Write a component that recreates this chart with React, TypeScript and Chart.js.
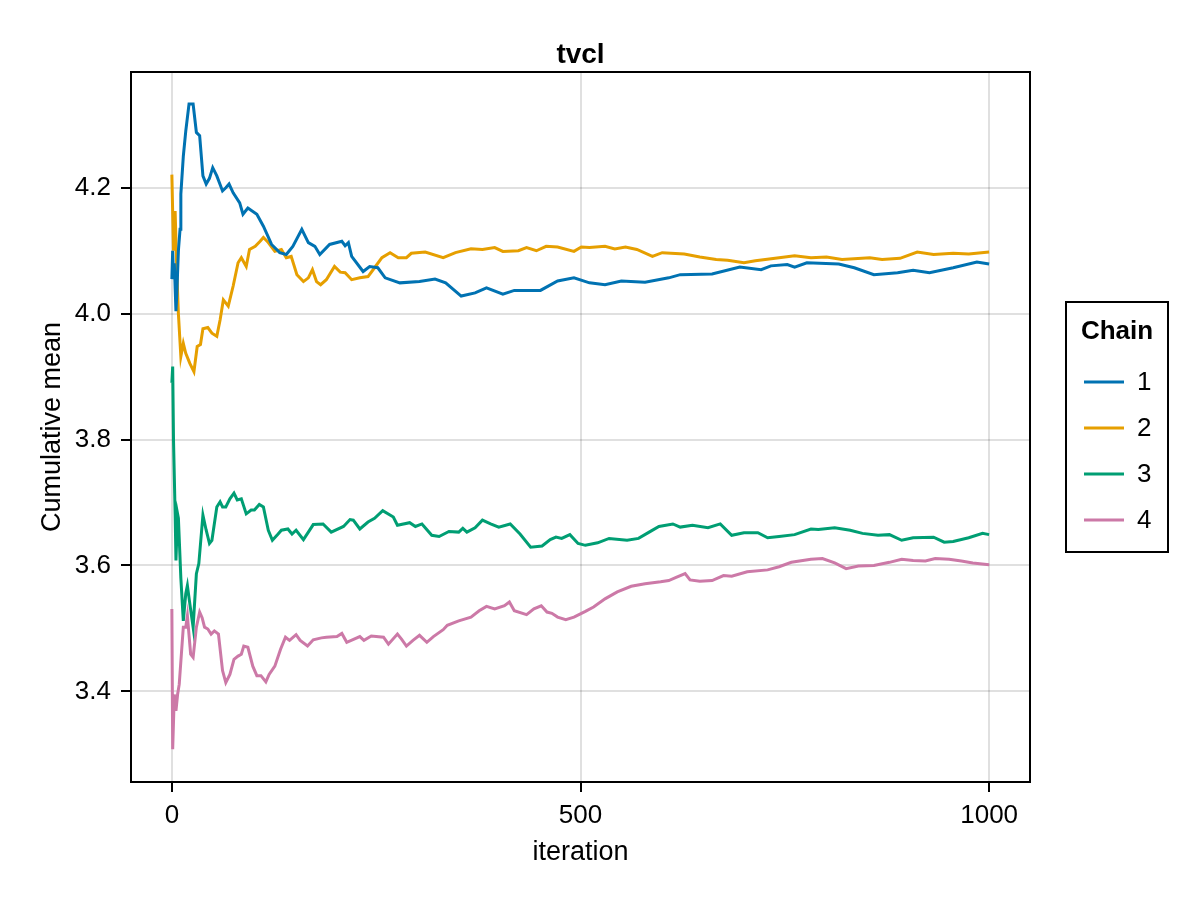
import React, { useEffect, useRef } from "react";
import { Chart, registerables } from "chart.js";

Chart.register(...registerables);

const FONT = "'Liberation Sans', Arial, Helvetica, sans-serif";

const TITLE = "tvcl";
const X_TITLE = "iteration";
const Y_TITLE = "Cumulative mean";
const LEGEND_TITLE = "Chain";
const CHAIN_LABELS = ["1", "2", "3", "4"];
const COLORS = ["#0072B2", "#E69F00", "#009E73", "#CC79A7"];

const X_TICKS = [0, 500, 1000];
const Y_TICKS = [3.4, 3.6, 3.8, 4.0, 4.2];
const X_MIN = -50;
const X_MAX = 1050;
const Y_MIN = 3.256;
const Y_MAX = 4.384;

// Chain 1
const ITER_1 = [0, 1, 2, 3, 5, 6, 8, 10, 11, 14, 17, 21, 26, 30, 34, 38, 42, 46, 50, 55, 62, 66, 70, 75, 83, 87, 93, 104, 112, 122, 132, 140, 148, 159, 167, 175, 181, 193, 208, 212, 216, 220, 234, 242, 252, 261, 279, 303, 322, 335, 354, 371, 385, 405, 419, 451, 472, 492, 511, 530, 550, 579, 608, 622, 661, 695, 721, 733, 753, 762, 777, 816, 835, 859, 888, 907, 927, 956, 985, 1000];
const MEAN_1 = [4.055, 4.1, 4.06, 4.08, 4.004, 4.03, 4.1, 4.134, 4.19, 4.25, 4.29, 4.333, 4.333, 4.288, 4.283, 4.219, 4.206, 4.215, 4.232, 4.219, 4.195, 4.2, 4.206, 4.192, 4.176, 4.158, 4.168, 4.158, 4.139, 4.11, 4.097, 4.094, 4.107, 4.134, 4.113, 4.107, 4.094, 4.11, 4.115, 4.108, 4.113, 4.091, 4.067, 4.075, 4.073, 4.057, 4.049, 4.051, 4.055, 4.049, 4.028, 4.033, 4.041, 4.031, 4.037, 4.037, 4.052, 4.057, 4.049, 4.046, 4.052, 4.05, 4.057, 4.062, 4.063, 4.074, 4.07, 4.076, 4.078, 4.074, 4.081, 4.079, 4.073, 4.062, 4.065, 4.069, 4.065, 4.073, 4.082, 4.079];

// Chain 2
const ITER_2 = [0, 2, 4, 6, 8, 11, 14, 17, 22, 27, 31, 35, 38, 44, 49, 55, 59, 63, 69, 75, 81, 85, 91, 95, 102, 108, 112, 118, 126, 134, 140, 146, 153, 161, 167, 172, 177, 182, 189, 199, 206, 212, 220, 230, 240, 248, 257, 267, 277, 287, 293, 310, 332, 347, 366, 380, 395, 405, 424, 434, 446, 458, 472, 492, 501, 511, 530, 542, 555, 569, 588, 600, 627, 646, 666, 680, 700, 714, 743, 762, 782, 801, 820, 854, 869, 891, 912, 932, 956, 975, 1000];
const MEAN_2 = [4.221, 4.1, 4.163, 4.07, 4.0, 3.932, 3.953, 3.937, 3.921, 3.908, 3.948, 3.951, 3.976, 3.978, 3.969, 3.964, 3.99, 4.022, 4.012, 4.044, 4.081, 4.089, 4.075, 4.102, 4.107, 4.115, 4.121, 4.113, 4.099, 4.102, 4.089, 4.091, 4.062, 4.051, 4.057, 4.07, 4.051, 4.046, 4.054, 4.075, 4.066, 4.065, 4.054, 4.057, 4.059, 4.073, 4.089, 4.097, 4.089, 4.089, 4.096, 4.098, 4.089, 4.097, 4.103, 4.102, 4.105, 4.099, 4.1, 4.105, 4.1, 4.107, 4.106, 4.099, 4.106, 4.105, 4.107, 4.103, 4.106, 4.102, 4.091, 4.097, 4.095, 4.09, 4.086, 4.085, 4.081, 4.084, 4.089, 4.092, 4.089, 4.09, 4.086, 4.089, 4.086, 4.088, 4.098, 4.094, 4.096, 4.095, 4.098];

// Chain 3
const ITER_3 = [0, 1, 2, 4, 5, 7, 8, 11, 14, 17, 19, 22, 26, 30, 33, 35, 38, 42, 46, 49, 55, 59, 62, 66, 71, 76, 80, 85, 91, 97, 101, 107, 112, 118, 123, 130, 134, 142, 147, 152, 161, 167, 173, 185, 195, 210, 218, 222, 230, 240, 248, 258, 271, 276, 291, 298, 306, 318, 327, 339, 351, 356, 361, 371, 380, 390, 400, 414, 426, 439, 453, 463, 470, 477, 487, 497, 506, 521, 535, 557, 571, 584, 596, 613, 622, 637, 656, 671, 685, 700, 717, 729, 743, 762, 782, 791, 811, 830, 845, 864, 878, 893, 907, 932, 945, 956, 975, 992, 1000];
const MEAN_3 = [3.89, 3.916, 3.8, 3.682, 3.608, 3.682, 3.675, 3.58, 3.512, 3.555, 3.568, 3.539, 3.502, 3.587, 3.603, 3.634, 3.68, 3.656, 3.635, 3.64, 3.693, 3.701, 3.693, 3.693, 3.706, 3.715, 3.704, 3.706, 3.682, 3.688, 3.688, 3.697, 3.693, 3.656, 3.64, 3.65, 3.656, 3.658, 3.65, 3.656, 3.641, 3.653, 3.665, 3.666, 3.653, 3.662, 3.673, 3.672, 3.658, 3.669, 3.675, 3.687, 3.677, 3.664, 3.668, 3.662, 3.666, 3.648, 3.646, 3.654, 3.653, 3.659, 3.653, 3.66, 3.672, 3.666, 3.661, 3.666, 3.65, 3.629, 3.631, 3.641, 3.645, 3.643, 3.649, 3.635, 3.632, 3.636, 3.643, 3.64, 3.643, 3.653, 3.662, 3.666, 3.661, 3.664, 3.66, 3.666, 3.648, 3.652, 3.652, 3.644, 3.646, 3.649, 3.658, 3.657, 3.66, 3.656, 3.651, 3.648, 3.649, 3.64, 3.644, 3.645, 3.637, 3.638, 3.644, 3.651, 3.649];

// Chain 4
const ITER_4 = [0, 1, 3, 5, 7, 9, 14, 17, 19, 23, 26, 30, 34, 37, 40, 44, 48, 52, 57, 62, 66, 71, 76, 81, 85, 88, 93, 99, 104, 109, 115, 119, 126, 133, 139, 144, 152, 157, 166, 173, 183, 189, 202, 208, 214, 230, 235, 244, 259, 265, 276, 281, 287, 295, 303, 312, 320, 332, 337, 351, 366, 376, 385, 395, 407, 413, 419, 434, 443, 452, 459, 465, 472, 482, 492, 506, 516, 530, 545, 562, 579, 598, 608, 617, 628, 634, 646, 661, 675, 685, 704, 729, 743, 758, 782, 796, 811, 825, 840, 859, 878, 893, 907, 922, 934, 951, 966, 980, 1000];
const MEAN_4 = [3.531, 3.308, 3.395, 3.369, 3.395, 3.411, 3.502, 3.502, 3.52, 3.459, 3.454, 3.502, 3.526, 3.517, 3.502, 3.499, 3.491, 3.496, 3.491, 3.433, 3.414, 3.427, 3.451, 3.456, 3.459, 3.472, 3.47, 3.44, 3.425, 3.425, 3.415, 3.427, 3.44, 3.467, 3.486, 3.481, 3.49, 3.481, 3.472, 3.482, 3.485, 3.486, 3.487, 3.492, 3.478, 3.487, 3.481, 3.488, 3.486, 3.475, 3.491, 3.483, 3.472, 3.481, 3.489, 3.478, 3.487, 3.498, 3.505, 3.512, 3.518, 3.528, 3.535, 3.531, 3.536, 3.542, 3.528, 3.522, 3.531, 3.536, 3.526, 3.524, 3.518, 3.514, 3.518, 3.527, 3.534, 3.547, 3.558, 3.567, 3.571, 3.574, 3.576, 3.581, 3.587, 3.577, 3.575, 3.576, 3.584, 3.583, 3.59, 3.593, 3.598, 3.605, 3.61, 3.611, 3.604, 3.595, 3.599, 3.6, 3.605, 3.61, 3.608, 3.607, 3.611, 3.61, 3.607, 3.604, 3.601];

const SERIES = [
  { iter: ITER_1, mean: MEAN_1 },
  { iter: ITER_2, mean: MEAN_2 },
  { iter: ITER_3, mean: MEAN_3 },
  { iter: ITER_4, mean: MEAN_4 },
];

const framePlugin = {
  id: "frameAndLegend",
  beforeDraw(chart: any) {
    const { ctx, width, height } = chart;
    ctx.save();
    ctx.fillStyle = "#ffffff";
    ctx.fillRect(0, 0, width, height);
    ctx.restore();
  },
  afterDraw(chart: any) {
    const { ctx, chartArea: a } = chart;
    ctx.save();
    // plot frame
    ctx.strokeStyle = "#000000";
    ctx.lineWidth = 2;
    ctx.strokeRect(a.left, a.top, a.right - a.left, a.bottom - a.top);

    // title
    ctx.fillStyle = "#000000";
    ctx.font = `bold 28px ${FONT}`;
    ctx.textAlign = "center";
    ctx.textBaseline = "alphabetic";
    ctx.fillText(TITLE, (a.left + a.right) / 2, 63);

    // legend
    const lw = 102;
    const lh = 250;
    const lx = a.right + 36;
    const ly = (a.top + a.bottom) / 2 - lh / 2;
    ctx.lineWidth = 2;
    ctx.strokeRect(lx, ly, lw, lh);
    ctx.font = `bold 26px ${FONT}`;
    ctx.textAlign = "center";
    ctx.textBaseline = "middle";
    ctx.fillText(LEGEND_TITLE, lx + lw / 2, ly + 30);
    ctx.font = `26px ${FONT}`;
    ctx.textAlign = "left";
    chart.data.datasets.forEach((ds: any, i: number) => {
      const y = ly + 80 + i * 46;
      ctx.strokeStyle = ds.borderColor;
      ctx.lineWidth = 3;
      ctx.beginPath();
      ctx.moveTo(lx + 18, y);
      ctx.lineTo(lx + 58, y);
      ctx.stroke();
      ctx.fillStyle = "#000000";
      ctx.fillText(ds.label, lx + 71, y + 1);
    });
    ctx.restore();
  },
};

export default function App() {
  const canvasRef = useRef<HTMLCanvasElement | null>(null);

  useEffect(() => {
    document.body.style.margin = "0";
    const canvas = canvasRef.current;
    if (!canvas) return;

    const datasets = SERIES.map((s, i) => ({
      label: CHAIN_LABELS[i],
      data: s.iter.map((x, j) => ({ x, y: s.mean[j] })),
      borderColor: COLORS[i],
      backgroundColor: COLORS[i],
      borderWidth: 3,
      pointRadius: 0,
      tension: 0,
      fill: false,
    }));

    const chart = new Chart(canvas, {
      type: "line",
      data: { datasets },
      plugins: [framePlugin],
      options: {
        animation: false,
        responsive: false,
        devicePixelRatio: 1,
        parsing: true,
        layout: { padding: { top: 72, right: 170, bottom: 0, left: 0 } },
        plugins: {
          legend: { display: false },
          title: { display: false },
          tooltip: { enabled: false },
        },
        scales: {
          x: {
            type: "linear",
            min: X_MIN,
            max: X_MAX,
            afterBuildTicks: (scale: any) => {
              scale.ticks = X_TICKS.map((v) => ({ value: v }));
            },
            afterFit: (scale: any) => {
              scale.height = 118;
            },
            ticks: {
              color: "#000000",
              font: { family: FONT, size: 26 },
              padding: 8,
              maxRotation: 0,
              callback: (v: any) => String(v),
            },
            grid: {
              color: "rgba(0,0,0,0.12)",
              lineWidth: 2,
              drawTicks: true,
              tickLength: 10,
              tickColor: "#000000",
              tickWidth: 2,
            },
            border: { display: false },
            title: {
              display: true,
              text: X_TITLE,
              color: "#000000",
              font: { family: FONT, size: 27 },
              padding: { top: 0, bottom: 31 },
            },
          },
          y: {
            type: "linear",
            min: Y_MIN,
            max: Y_MAX,
            afterBuildTicks: (scale: any) => {
              scale.ticks = Y_TICKS.map((v) => ({ value: v }));
            },
            afterFit: (scale: any) => {
              scale.width = 131;
            },
            ticks: {
              color: "#000000",
              font: { family: FONT, size: 26 },
              padding: 10,
              callback: (v: any) => Number(v).toFixed(1),
            },
            grid: {
              color: "rgba(0,0,0,0.12)",
              lineWidth: 2,
              drawTicks: true,
              tickLength: 10,
              tickColor: "#000000",
              tickWidth: 2,
            },
            border: { display: false },
            title: {
              display: true,
              text: Y_TITLE,
              color: "#000000",
              font: { family: FONT, size: 27 },
              padding: { top: 36, bottom: 0 },
            },
          },
        },
      },
    });

    return () => {
      chart.destroy();
    };
  }, []);

  return (
    <div style={{ width: 1200, height: 900 }}>
      <canvas ref={canvasRef} width={1200} height={900} style={{ display: "block" }} />
    </div>
  );
}
